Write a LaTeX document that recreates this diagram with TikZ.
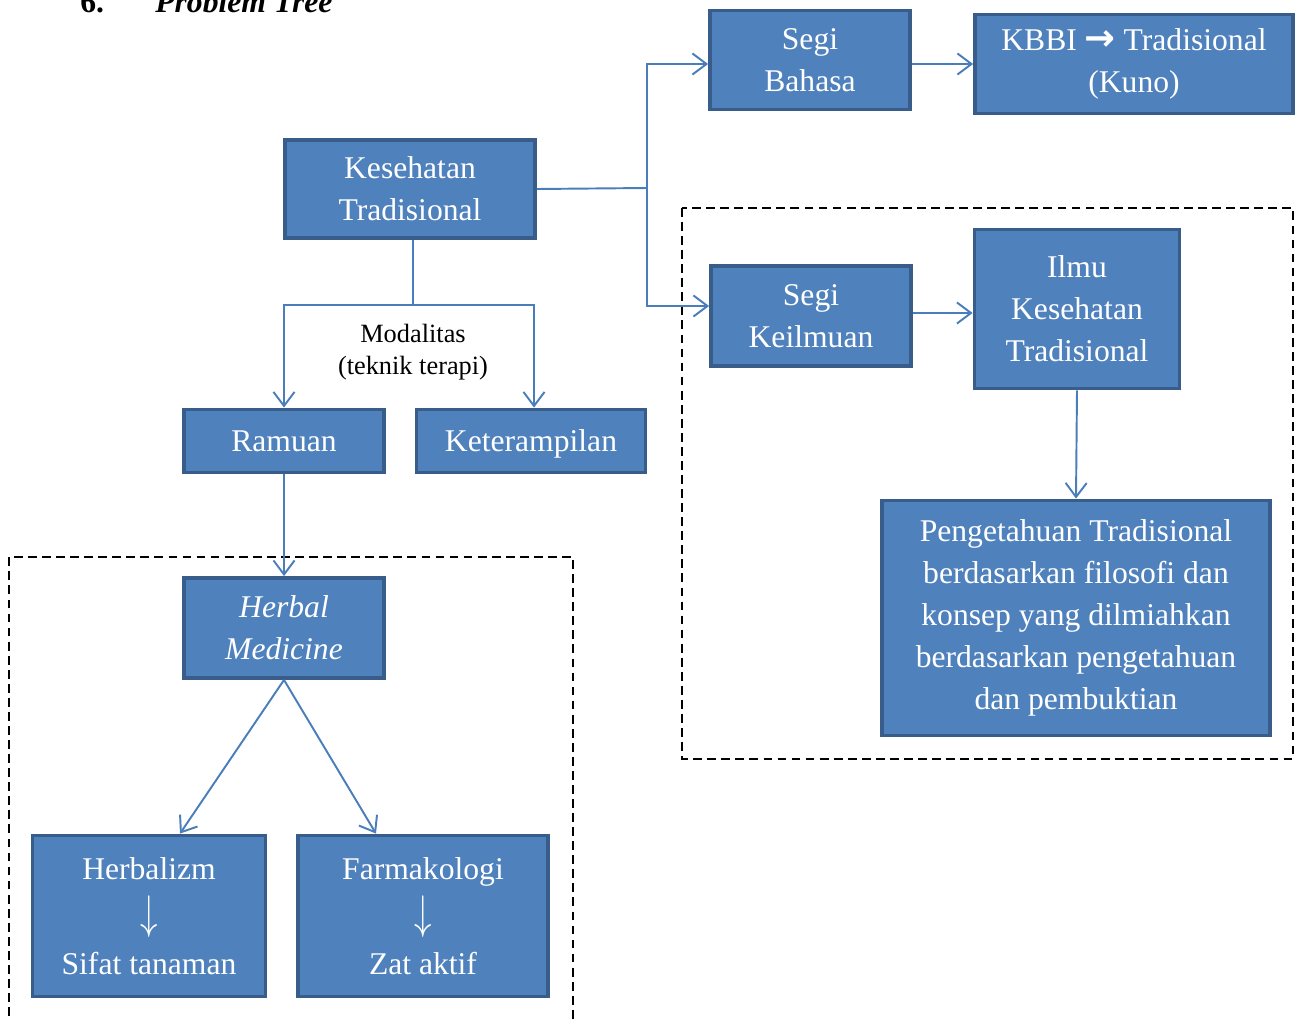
\documentclass[tikz,border=0pt]{standalone}
\usepackage{amsmath}
\usepackage{fontspec}
\setmainfont{Liberation Serif}
\newfontfamily\arrowfont{DejaVu Sans}
\usetikzlibrary{positioning,arrows.meta,calc}
\definecolor{boxfill}{HTML}{4F81BD}
\definecolor{boxline}{HTML}{385D8A}
\definecolor{linkblue}{HTML}{4A7EBB}
\tikzset{
    box/.style={draw=boxline, fill=boxfill, line width=2.2pt, text=white,
      align=center, inner sep=0pt, font=\fontsize{18}{24}\selectfont},
    oneline/.style={text height=14pt, text depth=2pt},
    link/.style={draw=linkblue, line width=1.1pt,
      -{Straight Barb[length=8pt,width=12pt,line width=1.1pt]}},
    plain/.style={draw=linkblue, line width=1.1pt},
    frame/.style={draw, line width=0.6pt, dash pattern=on 5pt off 3pt},
}
\newcommand{\downstep}{\scalebox{1.15}[1.55]{$\downarrow$}}

\begin{document}
\begin{tikzpicture}[x=0.02cm, y=-0.02cm]
      \useasboundingbox (0,0) rectangle (1302,1021);
      \node[anchor=base west, inner sep=0pt, font=\fontsize{18}{22}\selectfont\bfseries] (num) at (80,12) {6.};
      \node[anchor=base west, inner sep=0pt, font=\fontsize{18}{22}\selectfont\bfseries\itshape] (title) at (155,12) {Problem Tree};

      \draw[frame] (682,208) rectangle (1293,759);
      \draw[frame] (9,1030) |- (573,557) -- (573,1030);

      \node[box, minimum width=5cm, minimum height=1.96cm] (kesehatan) at (410,189) {Kesehatan\\Tradisional};
      \node[box, minimum width=4cm, minimum height=1.98cm] (bahasa) at (810,60) {Segi\\Bahasa};
      \node[box, minimum width=6.36cm, minimum height=1.98cm] (kbbi) at (1134,64) {KBBI {\arrowfont\bfseries\fontsize{21}{24}\selectfont →} Tradisional\\(Kuno)};
      \node[box, minimum width=4cm, minimum height=2cm] (keilmuan) at (811,316) {Segi\\Keilmuan};
      \node[box, minimum width=4.1cm, minimum height=3.18cm] (ilmu) at (1077,309) {Ilmu\\Kesehatan\\Tradisional};
      \node[box, minimum width=7.76cm, minimum height=4.7cm] (pengetahuan) at (1076,618)
        {Pengetahuan Tradisional\\berdasarkan filosofi dan\\konsep yang dilmiahkan\\berdasarkan pengetahuan\\dan pembuktian};
      \node[box, oneline, minimum width=4cm, minimum height=1.26cm] (ramuan) at (284,441) {Ramuan};
      \node[box, oneline, minimum width=4.58cm, minimum height=1.26cm] (keterampilan) at (531,441) {Keterampilan};
      \node[box, minimum width=4cm, minimum height=2cm, font=\fontsize{18}{24}\selectfont\itshape] (herbal) at (284,628) {Herbal\\Medicine};
      \node[box, minimum width=4.66cm, minimum height=3.22cm] (herbalizm) at (149,916)
        {Herbalizm\\[4pt]\downstep\\[2pt]Sifat tanaman};
      \node[box, minimum width=5cm, minimum height=3.22cm] (farmakologi) at (423,916)
        {Farmakologi\\[4pt]\downstep\\[2pt]Zat aktif};

      \coordinate (split) at (647,188);
      \coordinate (branch) at (413,305);
      \node[font=\fontsize{15}{18}\selectfont, align=center] (modalitas) at (413,352) {Modalitas\\(teknik terapi)};

      \draw[plain] (kesehatan.east) -- (split);
      \draw[link] (split) |- ([yshift=-0.08cm]bahasa.west);
      \draw[link] (split) |- ([yshift=0.2cm]keilmuan.west);
      \draw[link] ([yshift=-0.08cm]bahasa.east) -- ([yshift=-0.08cm]bahasa.east -| kbbi.west);
      \draw[link] ([yshift=0.06cm]keilmuan.east) -- ([yshift=0.06cm]keilmuan.east -| ilmu.west);
      \draw[link] (ilmu.south) -- (pengetahuan.north);
      \draw[plain] (kesehatan.south -| branch) -- (branch);
      \draw[link] (branch) -| (ramuan.north);
      \draw[link] (branch) -| ([xshift=0.06cm]keterampilan.north);
      \draw[link] (ramuan.south) -- (herbal.north);
      \draw[link] (herbal.south) -- ($(herbalizm.north)+(31,0)$);
      \draw[link] (herbal.south) -- ($(farmakologi.north)+(-47,0)$);
\end{tikzpicture}
\end{document}
